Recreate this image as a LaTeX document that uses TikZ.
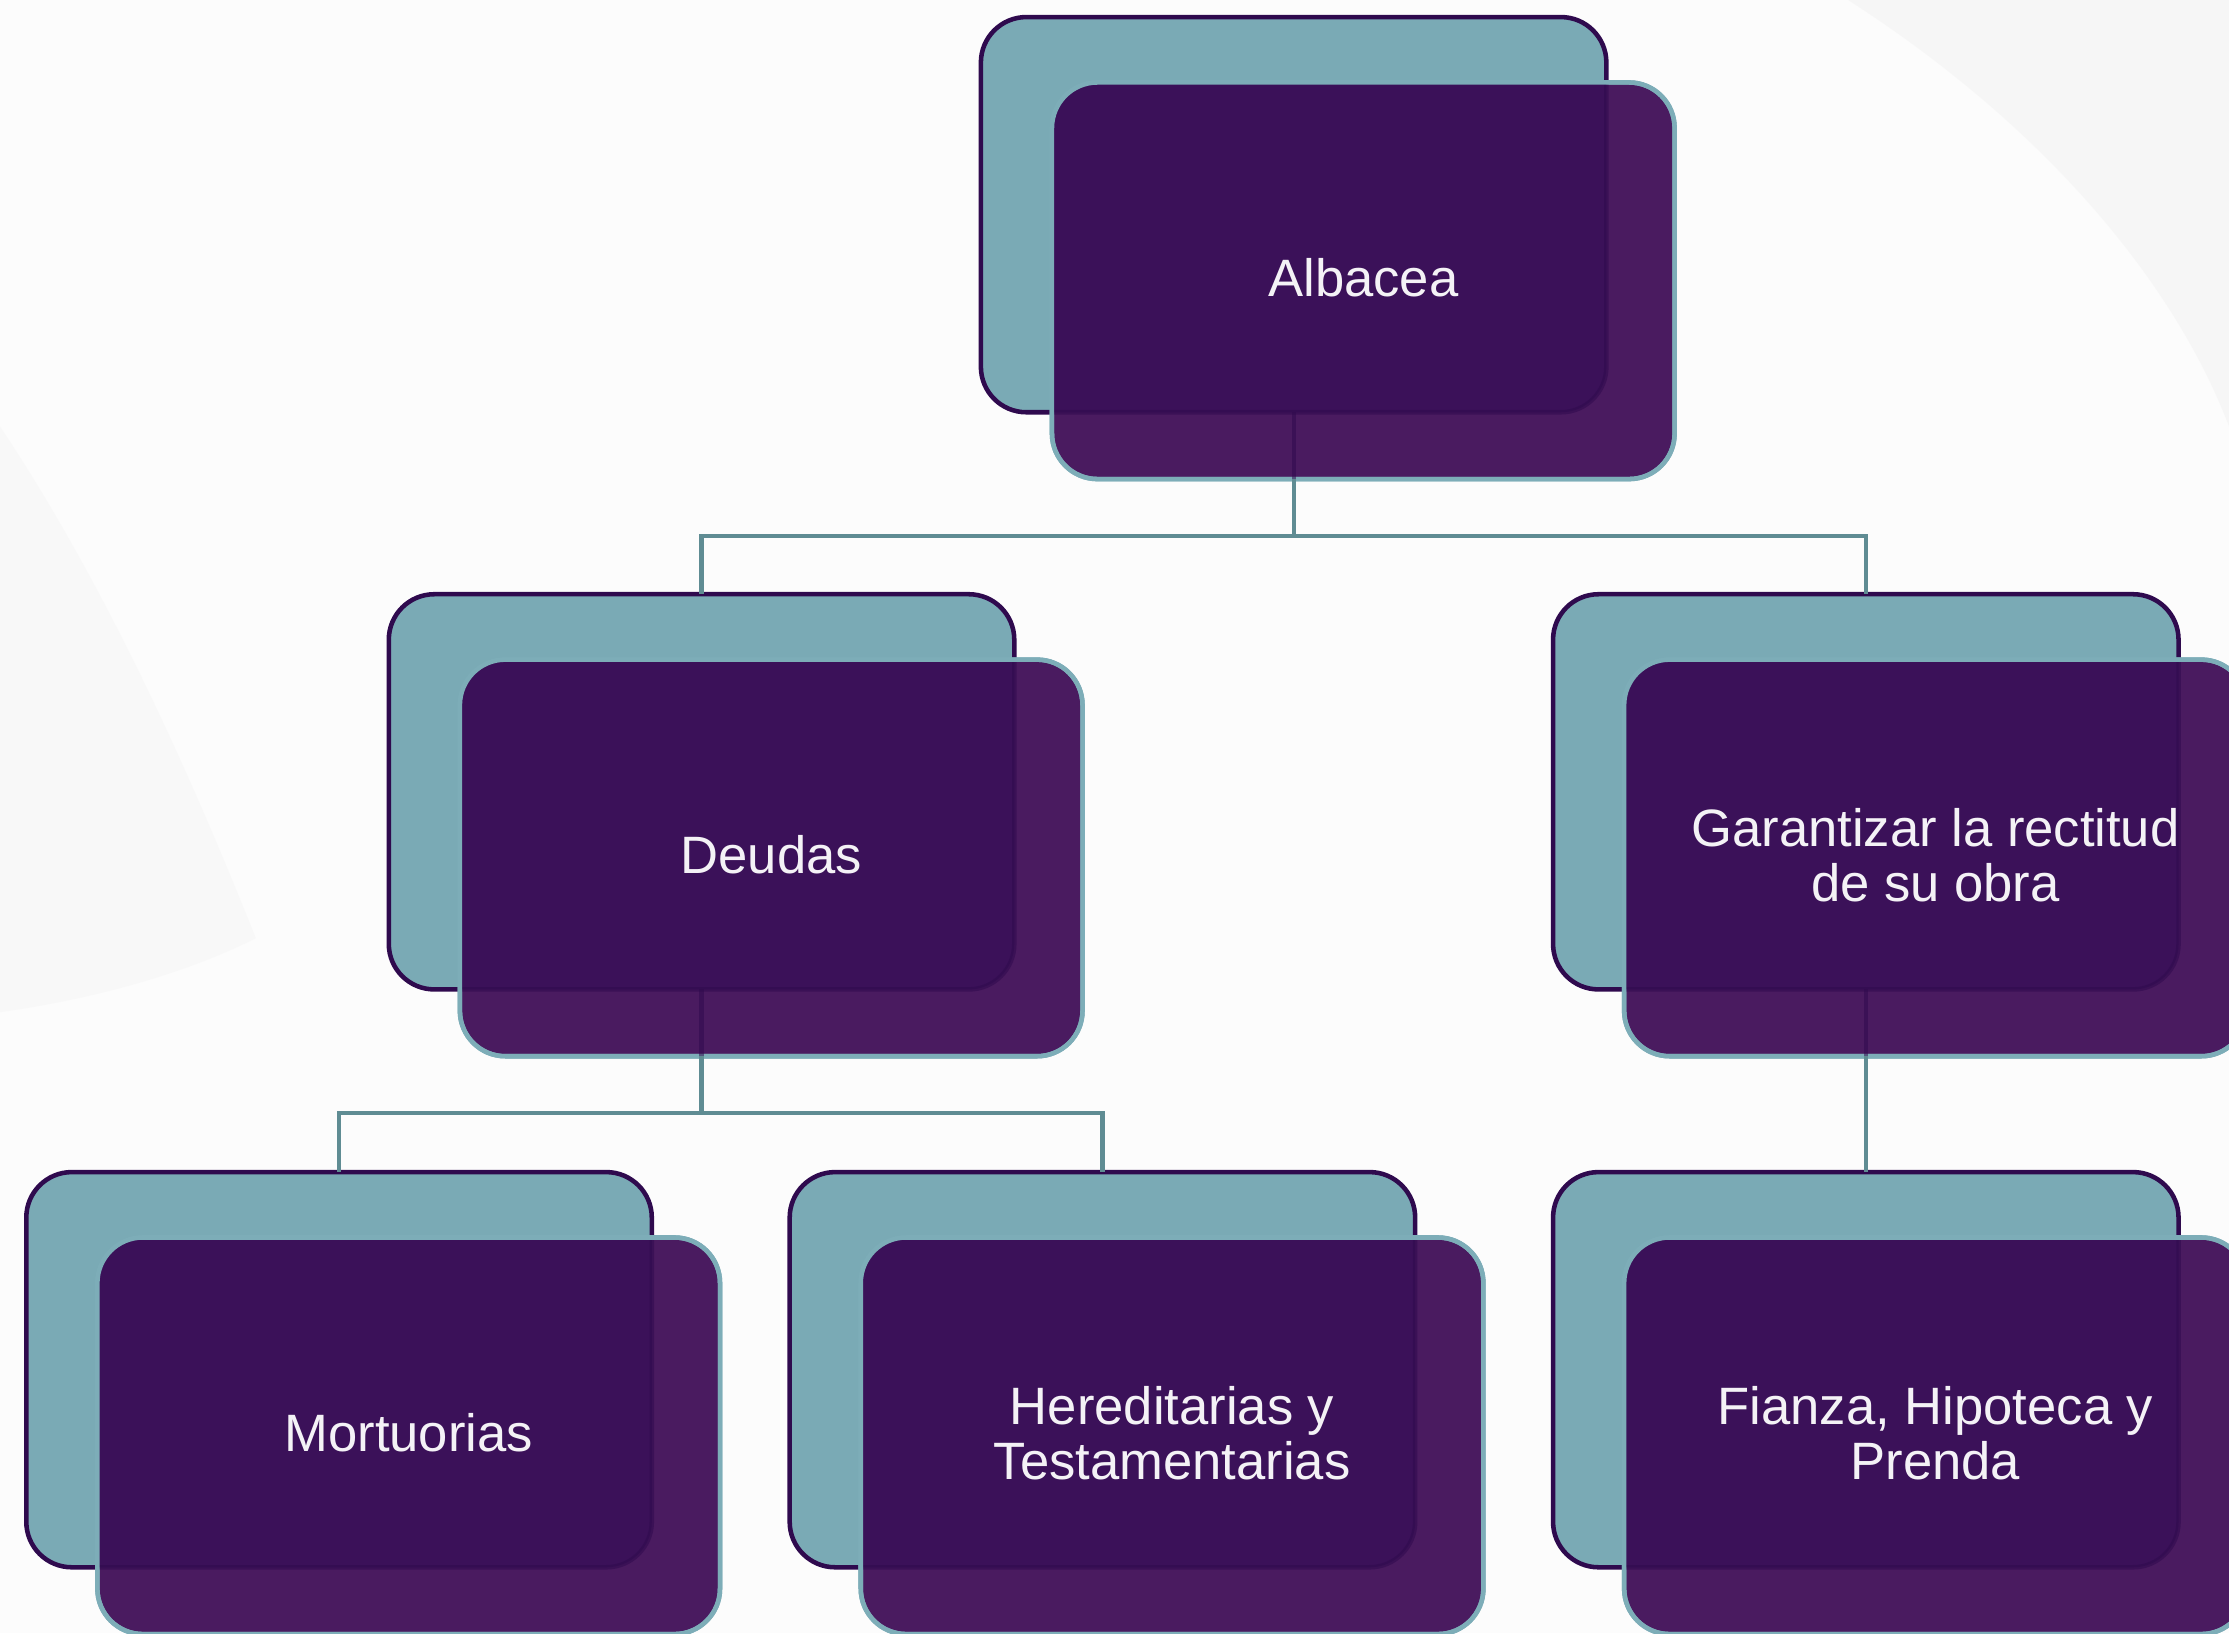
\documentclass[tikz,border=0pt]{standalone}
\usepackage{fontspec}
\setmainfont{Liberation Sans}
\usetikzlibrary{calc}
\definecolor{bgc}{HTML}{FCFCFC}
\definecolor{bgshade}{HTML}{F0F0F0}
\definecolor{tealfill}{HTML}{7AAAB5}
\definecolor{bkline}{HTML}{2F0A4E}
\definecolor{frontout}{HTML}{4A1B60}
\definecolor{overlapc}{HTML}{3B1159}
\definecolor{tealline}{HTML}{7DADB8}
\definecolor{connc}{HTML}{5F8C93}
\definecolor{txtc}{HTML}{F4F2F6}
\tikzset{
  backbox/.style={draw=bkline, line width=3.2pt, fill=tealfill, rounded corners=32pt,
    minimum width=440pt, minimum height=278pt, inner sep=0pt, outer sep=0pt},
  frontbox/.style={draw=tealline, line width=3.2pt, fill=frontout, rounded corners=32pt,
    minimum width=438pt, minimum height=279pt, inner sep=0pt, outer sep=0pt},
  labeltext/.style={text=txtc, font=\fontsize{37}{39}\selectfont, align=center, inner sep=0pt},
  connline/.style={draw=connc, line width=3pt},
  innerconn/.style={draw=bkline, line width=3pt, opacity=.55},
  ghostline/.style={draw=bkline, line width=3.2pt, opacity=.55, rounded corners=32pt}
}
\newcommand\mkpair[4]{%
  \node[backbox] (#1b) at (#2,#3) {};
  \node[frontbox] (#1f) at ($(#1b.center)+(49,46.5)$) {};
  \begin{scope}
    \clip[rounded corners=32pt] (#1f.north west) rectangle (#1f.south east);
    \fill[overlapc, rounded corners=32pt] (#1b.north west) rectangle (#1b.south east);
    \draw[ghostline] (#1b.north west) rectangle (#1b.south east);
  \end{scope}
  \draw[tealline, line width=3.2pt, rounded corners=32pt] (#1f.north west) rectangle (#1f.south east);
  \node[labeltext] (#1t) at ($(#1f.center)+(0,-2)$) {#4};
}
\begin{document}
\begin{tikzpicture}[x=1pt,y=-1pt]
\useasboundingbox (0,0) rectangle (1568,1149);
\clip (0,0) rectangle (1568,1149);
\fill[bgc] (0,0) rectangle (1568,1149);
% faint background shading
\fill[bgshade, opacity=.45] (1300,0) .. controls (1440,90) and (1530,200) .. (1568,300) -- (1568,0) -- cycle;
\fill[bgshade, opacity=.3] (0,300) .. controls (80,420) and (140,560) .. (180,660) .. controls (120,690) and (50,705) .. (0,712) -- cycle;

\mkpair{A}{910}{151}{Albacea}
\mkpair{D}{493.5}{557}{Deudas}
\mkpair{G}{1312.5}{557}{Garantizar la rectitud\\de su obra}
\mkpair{M}{238.5}{963.5}{Mortuorias}
\mkpair{H}{775.5}{963.5}{Hereditarias y\\Testamentarias}
\mkpair{F}{1312.5}{963.5}{Fianza, Hipoteca y\\Prenda}

% connector parts inside the front boxes
\draw[innerconn] (Ab.south) -- (Ab.south |- Af.south);
\draw[innerconn] (Db.south) -- (Db.south |- Df.south);
\draw[innerconn] (Gb.south) -- (Gb.south |- Gf.south);

% connectors
\coordinate (jA) at ($(Ab.south)+(0,87)$);
\coordinate (jD) at ($(Db.south)+(0,87)$);
\draw[connline] (Ab.south |- Af.south) -- (jA);
\draw[connline] (jA) -| (Db.north);
\draw[connline] (jA) -| (Gb.north);
\draw[connline] (Db.south |- Df.south) -- (jD);
\draw[connline] (jD) -| (Mb.north);
\draw[connline] (jD) -| (Hb.north);
\draw[connline] (Gb.south |- Gf.south) -- (Fb.north);
\end{tikzpicture}
\end{document}
